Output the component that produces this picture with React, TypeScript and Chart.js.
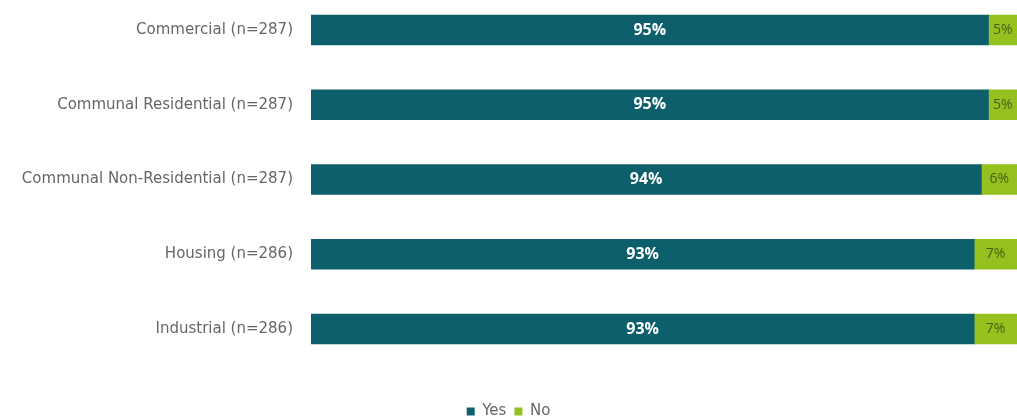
import React, { useEffect, useRef } from "react";
import { Chart, registerables } from "chart.js";

Chart.register(...registerables);

const categories = [
  "Commercial (n=287)",
  "Communal Residential (n=287)",
  "Communal Non-Residential (n=287)",
  "Housing (n=286)",
  "Industrial (n=286)",
];
const yesValues = [95, 95, 94, 93, 93];
const noValues = [5, 5, 6, 7, 7];
const seriesNames = ["Yes", "No"];
const colors = ["#0c5f6b", "#95c11f"];
const labelColors = ["#ffffff", "#45611a"];

const axisFont = "'DejaVu Sans', sans-serif";
const valueFont = "'Open Sans', sans-serif";

const barLabelPlugin = {
  id: "barLabels",
  afterDatasetsDraw(chart: any) {
    const { ctx, chartArea } = chart;
    ctx.save();
    chart.data.datasets.forEach((ds: any, di: number) => {
      const meta = chart.getDatasetMeta(di);
      meta.data.forEach((bar: any, i: number) => {
        const v = ds.data[i];
        const left = Math.max(Math.min(bar.x, bar.base), chartArea.left);
        const right = Math.min(Math.max(bar.x, bar.base), chartArea.right);
        const cx = (left + right) / 2;
        ctx.fillStyle = labelColors[di];
        ctx.font = di === 0 ? "bold 16px " + valueFont : "14px " + valueFont;
        ctx.textAlign = "center";
        ctx.textBaseline = "middle";
        ctx.fillText(v + "%", cx, bar.y);
      });
    });
    ctx.restore();
  },
};

export default function App() {
  const ref = useRef<HTMLCanvasElement | null>(null);
  useEffect(() => {
    if (!ref.current) return;
    const chart = new Chart(ref.current, {
      type: "bar",
      data: {
        labels: categories,
        datasets: [
          {
            label: seriesNames[0],
            data: yesValues,
            backgroundColor: colors[0],
            barThickness: 30,
            clip: { left: 0, right: 0, top: false, bottom: false } as any,
          },
          {
            label: seriesNames[1],
            data: noValues,
            backgroundColor: colors[1],
            barThickness: 30,
            clip: { left: 0, right: 0, top: false, bottom: false } as any,
          },
        ],
      },
      options: {
        indexAxis: "y",
        animation: false,
        responsive: false,
        maintainAspectRatio: false,
        layout: { padding: { top: 30, right: 0, bottom: -10, left: 0 } },
        scales: {
          x: {
            stacked: true,
            min: 0,
            max: 99,
            display: true,
            ticks: { display: false },
            grid: { display: false },
            border: { display: false },
            afterFit: (s: any) => {
              s.height = 67;
            },
          },
          y: {
            stacked: true,
            offset: false,
            grid: { display: false },
            border: { display: false },
            ticks: {
              color: "#666666",
              font: { family: axisFont, size: 15 },
              padding: 10,
            },
            afterFit: (s: any) => {
              s.width = 311;
            },
          },
        },
        plugins: {
          legend: {
            position: "bottom",
            labels: {
              boxWidth: 8,
              boxHeight: 8,
              padding: 8,
              color: "#666666",
              font: { family: axisFont, size: 15 },
            },
          },
          tooltip: { enabled: false },
        },
      },
      plugins: [barLabelPlugin],
    });
    return () => chart.destroy();
  }, []);
  return (
    <div style={{ position: "fixed", left: 0, top: 0, width: 1017, height: 419, background: "#fff" }}>
      <canvas ref={ref} width={1017} height={419} style={{ width: 1017, height: 419 }} />
    </div>
  );
}
